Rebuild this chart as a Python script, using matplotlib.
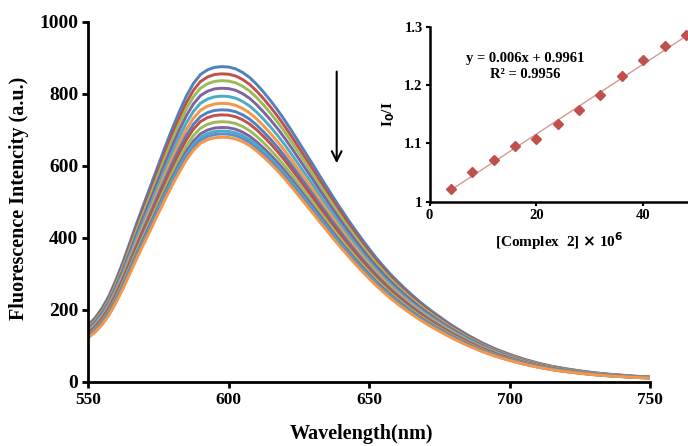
import numpy as np
import matplotlib
matplotlib.use("Agg")
import matplotlib.pyplot as plt

# ---- data ----
wavelength = [550, 552.5, 555, 557.5, 560, 562.5, 565, 567.5, 570, 572.5, 575, 577.5,
              580, 582.5, 585, 587.5, 590, 592.5, 595, 597.5, 600, 602.5, 605, 607.5,
              610, 612.5, 615, 617.5, 620, 622.5, 625, 627.5, 630, 632.5, 635, 637.5,
              640, 642.5, 645, 647.5, 650, 652.5, 655, 657.5, 660, 662.5, 665, 667.5,
              670, 672.5, 675, 677.5, 680, 685, 690, 695, 700, 705, 710, 715, 720,
              725, 730, 735, 740, 745, 750]
# emission profile of the top curve (normalised below)
profile_raw = [158, 178, 205, 240, 285, 335, 390, 445, 498, 550, 603, 655,
               705, 752, 795, 830, 855, 868, 875, 877, 876, 871, 861, 847,
               828, 806, 782, 756, 728, 698, 667, 636, 605, 573, 542, 511,
               481, 452, 424, 397, 371, 346, 323, 301, 281, 262, 244, 227,
               211, 196, 182, 168, 155, 131, 110, 92, 77, 64, 53, 44, 37,
               31, 26, 22, 19, 16, 14]
peak_intensity = [876, 856, 837, 816, 794, 774, 756, 742, 723, 707, 697, 689, 680]
curve_colors = ['#4F81BD', '#C0504D', '#9BBB59', '#8064A2', '#4BACC6', '#F79646',
                '#4F81BD', '#C0504D', '#9BBB59', '#8064A2', '#4BACC6', '#5B8FD0', '#F79646']

conc = [4, 8, 12, 16, 20, 24, 28, 32, 36, 40, 44, 48]
ratio = [1.021, 1.051, 1.072, 1.096, 1.108, 1.133, 1.157, 1.183, 1.216, 1.243, 1.267, 1.286]
slope, intercept = 0.006, 0.9961

main_xticks = [550, 600, 650, 700, 750]
main_yticks = [0, 200, 400, 600, 800, 1000]
inset_xticks = [0, 20, 40]
inset_yticks = [1.0, 1.1, 1.2, 1.3]
inset_yticklabels = ['1', '1.1', '1.2', '1.3']

plt.rcParams['font.family'] = ['Liberation Serif', 'DejaVu Serif']
plt.rcParams['font.weight'] = 'bold'

fig = plt.figure(figsize=(6.88, 4.46), dpi=100)
ax = fig.add_axes([88/688, 64/446, 562/688, 360/446])

prof = np.array(profile_raw, dtype=float) / max(profile_raw)
for pk, c in zip(peak_intensity, curve_colors):
    ax.plot(wavelength, prof * pk, color=c, lw=2.1, solid_capstyle='round',
            solid_joinstyle='round')

ax.set_xlim(550, 750)
ax.set_ylim(0, 1000)
ax.set_xticks(main_xticks)
ax.set_yticks(main_yticks)
for s in ['top', 'right']:
    ax.spines[s].set_visible(False)
for s in ['left', 'bottom']:
    ax.spines[s].set_linewidth(2.0)
    ax.spines[s].set_color('black')
ax.tick_params(axis='both', direction='out', length=4, width=2.0, pad=3)
ax.tick_params(axis='x', labelsize=12.5)
ax.tick_params(axis='y', labelsize=14)
for lab in ax.get_xticklabels() + ax.get_yticklabels():
    lab.set_fontweight('bold')
ax.set_xlabel('Wavelength(nm)', fontsize=14.5, fontweight='bold')
ax.xaxis.set_label_coords(0.486, -0.118)
ax.set_ylabel('Fluorescence Intencity (a.u.)', fontsize=14.5, fontweight='bold')
ax.yaxis.set_label_coords(-0.105, 0.51)

ax.annotate('', xy=(638.5, 600), xytext=(638.5, 870),
            arrowprops=dict(arrowstyle='->,head_length=0.7,head_width=0.35', color='black', lw=1.5))

# ---- inset ----
ins = fig.add_axes([429.5/688, (446-201.7)/446, 1 - 429.5/688, (201.7-27)/446])
ins.patch.set_alpha(0)
xl = np.array([conc[0], 50])
ins.plot(xl, slope * xl + intercept, color='#D49A98', lw=1.0)
ins.plot(conc, ratio, linestyle='none', marker='D', ms=5, color='#C0504D', clip_on=False)
ins.set_xlim(0, 48.4)
ins.set_ylim(1.0, 1.3)
ins.set_xticks(inset_xticks)
ins.set_yticks(inset_yticks)
ins.set_yticklabels(inset_yticklabels)
for s in ['top', 'right']:
    ins.spines[s].set_visible(False)
for s in ['left', 'bottom']:
    ins.spines[s].set_linewidth(1.8)
ins.tick_params(axis='both', direction='out', length=3, width=1.5, labelsize=10.5, pad=2)
for lab in ins.get_xticklabels() + ins.get_yticklabels():
    lab.set_fontweight('bold')
ins.set_ylabel(r'I$_\mathbf{0}$/I', fontsize=11, fontweight='bold', labelpad=5)
ins.set_xlabel(r'[Complex  2] $\times$ 10$^\mathbf{6}$', fontsize=11, fontweight='bold', labelpad=6)
ins.text(0.37, 0.82, 'y = 0.006x + 0.9961', transform=ins.transAxes, ha='center', va='center',
         fontsize=10.5, fontweight='bold')
ins.text(0.37, 0.73, 'R² = 0.9956', transform=ins.transAxes, ha='center', va='center',
         fontsize=10.5, fontweight='bold')

fig.savefig('out.png', dpi=100)
